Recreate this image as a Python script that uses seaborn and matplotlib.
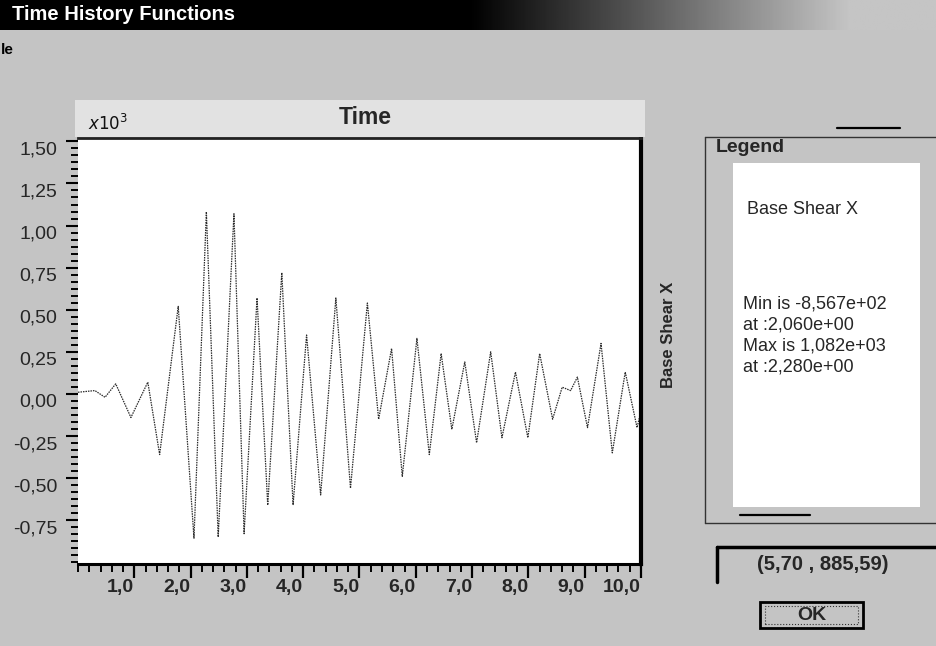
import numpy as np
import pandas as pd
import matplotlib
matplotlib.use("Agg")
import matplotlib.pyplot as plt
import seaborn as sns
from matplotlib.ticker import MultipleLocator, FuncFormatter
from matplotlib.patches import Rectangle
from matplotlib.lines import Line2D

# ---------------- data (values in x10^3) ----------------
time_s = [0.00, 0.30, 0.48, 0.67, 0.94, 1.24, 1.45, 1.78, 2.06, 2.28,
          2.49, 2.77, 2.95, 3.18, 3.37, 3.62, 3.82, 4.06, 4.31, 4.58,
          4.84, 5.14, 5.34, 5.57, 5.76, 6.02, 6.24, 6.45, 6.64, 6.87,
          7.08, 7.33, 7.53, 7.77, 7.99, 8.20, 8.43, 8.60, 8.75, 8.87,
          9.05, 9.29, 9.49, 9.72, 9.93, 10.00]
base_shear_x = [0.01, 0.02, -0.02, 0.06, -0.14, 0.07, -0.36, 0.52, -0.857, 1.082,
                -0.85, 1.07, -0.83, 0.57, -0.66, 0.72, -0.66, 0.35, -0.60, 0.57,
                -0.56, 0.54, -0.15, 0.27, -0.49, 0.33, -0.36, 0.24, -0.21, 0.19,
                -0.29, 0.25, -0.26, 0.13, -0.26, 0.24, -0.15, 0.04, 0.02, 0.10,
                -0.20, 0.30, -0.35, 0.13, -0.20, -0.10]
x_ticks = [1, 2, 3, 4, 5, 6, 7, 8, 9, 10]
y_ticks = [-0.75, -0.50, -0.25, 0.00, 0.25, 0.50, 0.75, 1.00, 1.25, 1.50]
legend_lines = ["Min is -8,567e+02", "at :2,060e+00", "Max is 1,082e+03", "at :2,280e+00"]
cursor_text = "(5,70 , 885,59)"

df = pd.DataFrame({"Time": time_s, "Base Shear X": base_shear_x})

# ---------------- figure ----------------
W, H = 937, 646
BG = "#c4c4c4"
sns.set_theme(style="white")
plt.rcParams["font.family"] = ["Liberation Sans", "DejaVu Sans"]
fig = plt.figure(figsize=(W / 100, H / 100), dpi=100, facecolor=BG)


def fx(x):
    return x / W


def fy(y):
    return 1 - y / H


def rect(x0, y0, x1, y1, **kw):
    fig.patches.append(Rectangle((fx(x0), fy(y1)), fx(x1) - fx(x0), fy(y0) - fy(y1),
                                 transform=fig.transFigure, figure=fig, **kw))


def hline(x0, x1, y, **kw):
    fig.lines.append(Line2D([fx(x0), fx(x1)], [fy(y), fy(y)], transform=fig.transFigure, figure=fig, **kw))


def vline(x, y0, y1, **kw):
    fig.lines.append(Line2D([fx(x), fx(x)], [fy(y0), fy(y1)], transform=fig.transFigure, figure=fig, **kw))


# title bar with gradient
bar = fig.add_axes([0, fy(30), 1, 30 / H])
cols = np.linspace(0, W, 400)
grad = np.clip((cols - 470) / 380, 0, 1) * 0.77
bar.imshow(grad[None, :], cmap="gray", vmin=0, vmax=1, aspect="auto", extent=[0, W, 0, 1])
bar.set_axis_off()
fig.text(fx(12), fy(14), "Time History Functions", color="white", fontsize=14.5,
         fontweight="bold", va="center", ha="left")
fig.text(fx(1), fy(50), "le", color="black", fontsize=11, fontweight="bold", va="center")

# light band behind title
rect(75, 100, 645, 137, facecolor="#e2e2e2", edgecolor="none")

# ---------------- plot axes ----------------
ax = fig.add_axes([fx(78), fy(564), (641 - 78) / W, (564 - 138) / H])
ax.set_facecolor("white")
sns.lineplot(data=df, x="Time", y="Base Shear X", ax=ax, color="#2a2a2a",
             linewidth=0.9, linestyle=(0, (1.2, 0.8)))
ax.set_xlim(0, 10.0)
ax.set_ylim(-1.01, 1.52)
ax.set_xlabel("")
ax.set_ylabel("")
ax.set_xticks(x_ticks)
ax.set_yticks(y_ticks)
ax.xaxis.set_minor_locator(MultipleLocator(0.2))
ax.yaxis.set_minor_locator(MultipleLocator(0.25 / 6))
comma1 = FuncFormatter(lambda v, p: f"{v:.1f}".replace(".", ","))
comma2 = FuncFormatter(lambda v, p: f"{v:.2f}".replace(".", ","))
ax.xaxis.set_major_formatter(comma1)
ax.yaxis.set_major_formatter(comma2)
ax.tick_params(axis="x", which="major", direction="out", length=10, width=1.6, color="black",
               pad=1, labelsize=14, bottom=True)
ax.tick_params(axis="x", which="minor", direction="out", length=6, width=1.4, color="black", bottom=True)
ax.tick_params(axis="y", which="major", direction="out", length=9, width=1.5, color="black",
               pad=6, labelsize=14, left=True)
ax.tick_params(axis="y", which="minor", direction="out", length=5, width=1.4, color="black", left=True)
for lab in ax.get_xticklabels():
    lab.set_horizontalalignment("right")
    lab.set_fontweight("bold")
for lab in ax.get_yticklabels():
    lab.set_verticalalignment("top")
ax.spines["left"].set_visible(False)
ax.spines["top"].set_color("#222222")
ax.spines["top"].set_linewidth(2.0)
ax.spines["right"].set_color("black")
ax.spines["right"].set_linewidth(3.0)
ax.spines["bottom"].set_color("black")
ax.spines["bottom"].set_linewidth(2.2)

fig.text(fx(88), fy(123), r"$\mathit{x10^{3}}$", fontsize=12, va="center", ha="left", color="#111111")
fig.text(fx(365), fy(117), "Time", fontsize=16.5, fontweight="bold", ha="center", va="center")
fig.text(fx(669), fy(335), "Base Shear X", fontsize=12, fontweight="bold", rotation=90,
         ha="center", va="center")

# ---------------- legend panel ----------------
hline(705, 937, 137, color="#333333", lw=1.0)
vline(705, 137, 523, color="#333333", lw=1.0)
hline(705, 937, 523, color="#333333", lw=1.0)
rect(712, 138, 800, 156, facecolor=BG, edgecolor="none")
fig.text(fx(716), fy(147), "Legend", fontsize=14, fontweight="bold", va="center", ha="left")
hline(837, 900, 128, color="black", lw=1.6)
rect(733, 163, 920, 507, facecolor="white", edgecolor="none")
hline(740, 810, 515, color="black", lw=1.6)
fig.text(fx(747), fy(210), "Base Shear X", fontsize=13, va="center", ha="left")
for i, line in enumerate(legend_lines):
    fig.text(fx(743), fy(304 + i * 21), line, fontsize=13, va="center", ha="left")

# cursor readout box
hline(717, 937, 547, color="black", lw=2.5)
vline(717, 547, 582, color="black", lw=2.5)
fig.text(fx(757), fy(564), cursor_text, fontsize=14.5, fontweight="bold", va="center", ha="left")

# OK button
rect(760, 602, 863, 628, facecolor=BG, edgecolor="black", lw=2.0)
rect(765, 606, 858, 624, facecolor="none", edgecolor="#333333", lw=0.8, linestyle=":")
fig.text(fx(812), fy(615), "OK", fontsize=14, fontweight="bold", va="center", ha="center")

fig.savefig("out.png", dpi=100, facecolor=BG)
